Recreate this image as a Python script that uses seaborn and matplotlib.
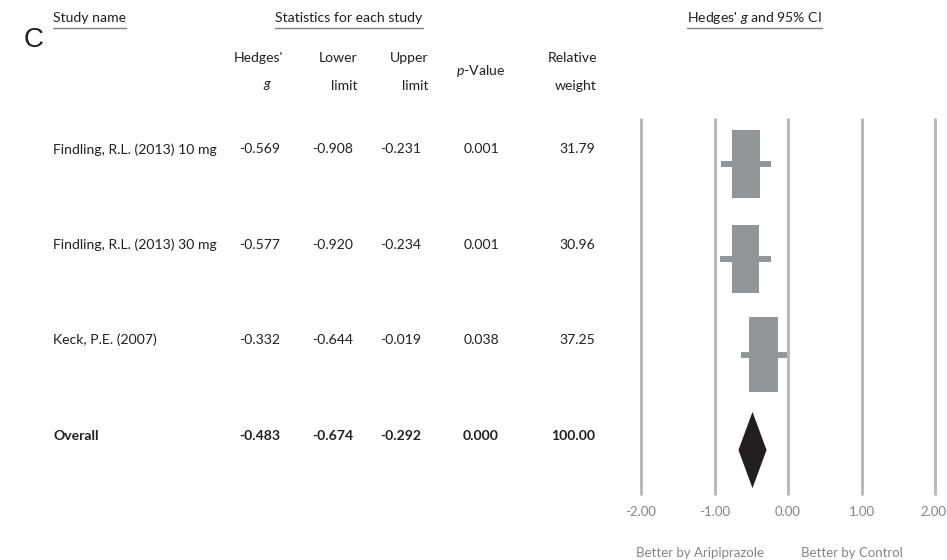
import matplotlib
matplotlib.use("Agg")
import matplotlib.pyplot as plt
from matplotlib.lines import Line2D
from matplotlib.transforms import blended_transform_factory, offset_copy, ScaledTranslation
import numpy as np
import pandas as pd
import seaborn as sns

# ---- data -------------------------------------------------------------
studies = ["Findling, R.L. (2013) 10 mg", "Findling, R.L. (2013) 30 mg", "Keck, P.E. (2007)"]
hedges_g = [-0.569, -0.577, -0.332]
lower_limit = [-0.908, -0.920, -0.644]
upper_limit = [-0.231, -0.234, -0.019]
p_values = ["0.001", "0.001", "0.038"]
rel_weight = [31.79, 30.96, 37.25]

overall_label = "Overall"
overall_g = -0.483
overall_lower = -0.674
overall_upper = -0.292
overall_p = "0.000"
overall_weight = 100.00

x_ticks = [-2.0, -1.0, 0.0, 1.0, 2.0]
x_tick_labels = ["-2.00", "-1.00", "0.00", "1.00", "2.00"]

# ---- style ------------------------------------------------------------
sns.set_theme(style="white")
plt.rcParams["font.family"] = ["Lato", "DejaVu Sans"]
plt.rcParams["mathtext.fontset"] = "custom"
plt.rcParams["mathtext.rm"] = "Lato"
plt.rcParams["mathtext.it"] = "Lato:italic"

W, H = 947, 560
fig = plt.figure(figsize=(W / 100, H / 100), dpi=100)
fig.patch.set_facecolor("white")

TEXT = "#231f20"
BOX = "#939598"
GRID = "#b9b9bb"
TICK = "#858585"
FS = 10.1
FS_AXIS = 9.5


def fx(px):
    return px / W


def fy(py):
    return 1 - py / H


# ---- forest axes ------------------------------------------------------
ax = fig.add_axes([fx(641), fy(495), fx(935) - fx(641), (495 - 118) / H])
ax.set_xlim(-2, 2)
ax.set_ylim(3.472, -0.4825)

rows = np.arange(len(studies))
df = pd.DataFrame({"study": studies, "g": hedges_g, "lo": lower_limit,
                   "hi": upper_limit, "w": rel_weight, "row": rows})

# vertical reference lines
ax.vlines(x_ticks, 3.472, -0.4825, colors=GRID, lw=2.1, zorder=0, clip_on=False)

# confidence-interval whiskers
ax.hlines(df["row"], df["lo"], df["hi"], colors=BOX, lw=4.3, zorder=2)

# study boxes: area proportional to relative weight
box_marker = [(-0.2, -0.5), (0.2, -0.5), (0.2, 0.5), (-0.2, 0.5), (-0.2, -0.5)]
sns.scatterplot(data=df, x="g", y="row", marker=box_marker,
                s=df["w"] * 77, color=BOX, linewidth=0, ax=ax, zorder=3,
                legend=False)

# pooled estimate diamond
r_over = len(studies)
half_h = 0.4
ax.fill([overall_lower, overall_g, overall_upper, overall_g],
        [r_over, r_over - half_h, r_over, r_over + half_h],
        color=TEXT, lw=0, zorder=3)

ax.set_xticks(x_ticks)
ax.set_xticklabels(x_tick_labels)
ax.set_yticks([])
ax.tick_params(axis="x", length=0, pad=8, labelsize=FS_AXIS, labelcolor=TICK)
ax.set_xlabel("")
ax.set_ylabel("")
for sp in ax.spines.values():
    sp.set_visible(False)
ax.patch.set_alpha(0)

# keep the right-most tick label inside the canvas
last_lab = ax.get_xticklabels()[-1]
last_lab.set_horizontalalignment("right")
last_lab.set_transform(last_lab.get_transform()
                       + ScaledTranslation(11 / 100, 0, fig.dpi_scale_trans))

# ---- table text -------------------------------------------------------
row_trans = blended_transform_factory(
    fig.transFigure, offset_copy(ax.transData, fig=fig, x=0, y=14.5, units="dots"))

col_g, col_lo, col_hi, col_p, col_w = 280, 353, 421, 481, 595
name_x = 53

for i, r in df.iterrows():
    kw = dict(transform=row_trans, va="center", fontsize=FS, color=TEXT)
    fig.text(fx(name_x), r["row"], r["study"], ha="left", **kw)
    fig.text(fx(col_g), r["row"], f"{r['g']:.3f}", ha="right", **kw)
    fig.text(fx(col_lo), r["row"], f"{r['lo']:.3f}", ha="right", **kw)
    fig.text(fx(col_hi), r["row"], f"{r['hi']:.3f}", ha="right", **kw)
    fig.text(fx(col_p), r["row"], p_values[i], ha="center", **kw)
    fig.text(fx(col_w), r["row"], f"{r['w']:.2f}", ha="right", **kw)

kwb = dict(transform=row_trans, va="center", fontsize=FS, color=TEXT, fontweight="bold")
fig.text(fx(name_x), r_over, overall_label, ha="left", **kwb)
fig.text(fx(col_g), r_over, f"{overall_g:.3f}", ha="right", **kwb)
fig.text(fx(col_lo), r_over, f"{overall_lower:.3f}", ha="right", **kwb)
fig.text(fx(col_hi), r_over, f"{overall_upper:.3f}", ha="right", **kwb)
fig.text(fx(col_p), r_over, overall_p, ha="center", **kwb)
fig.text(fx(col_w), r_over, f"{overall_weight:.2f}", ha="right", **kwb)

# column headers
hk = dict(fontsize=FS, color=TEXT, va="center")
fig.text(fx(283), fy(58), "Hedges'", ha="right", **hk)
fig.text(fx(272), fy(86), "$g$", ha="right", **hk)
fig.text(fx(357), fy(58), "Lower", ha="right", **hk)
fig.text(fx(357), fy(86), "limit", ha="right", **hk)
fig.text(fx(428), fy(58), "Upper", ha="right", **hk)
fig.text(fx(428), fy(86), "limit", ha="right", **hk)
fig.text(fx(481), fy(71), "$p$-Value", ha="center", **hk)
fig.text(fx(597), fy(58), "Relative", ha="right", **hk)
fig.text(fx(597), fy(86), "weight", ha="right", **hk)

# underlined section titles
titles = [
    fig.text(fx(53), fy(18), "Study name", ha="left", **hk),
    fig.text(fx(349), fy(18), "Statistics for each study", ha="center", **hk),
    fig.text(fx(754.5), fy(18), "Hedges' $g$ and 95% CI", ha="center", **hk),
]
fig.canvas.draw()
renderer = fig.canvas.get_renderer()
for t in titles:
    bb = t.get_window_extent(renderer)
    x0, x1 = bb.x0 / W, bb.x1 / W
    fig.add_artist(Line2D([x0, x1], [fy(27.5), fy(27.5)], color="#808080", lw=1.0,
                          transform=fig.transFigure))

# panel letter
fig.text(fx(24), fy(40), "C", ha="left", va="center", fontsize=20,
         color=TEXT, family=["Liberation Sans", "DejaVu Sans"])

# direction labels
fig.text(fx(700), fy(553), "Better by Aripiprazole", ha="center", va="center",
         fontsize=FS_AXIS, color=TICK)
fig.text(fx(852), fy(553), "Better by Control", ha="center", va="center",
         fontsize=FS_AXIS, color=TICK)

fig.savefig("out.png", dpi=100, facecolor="white")
